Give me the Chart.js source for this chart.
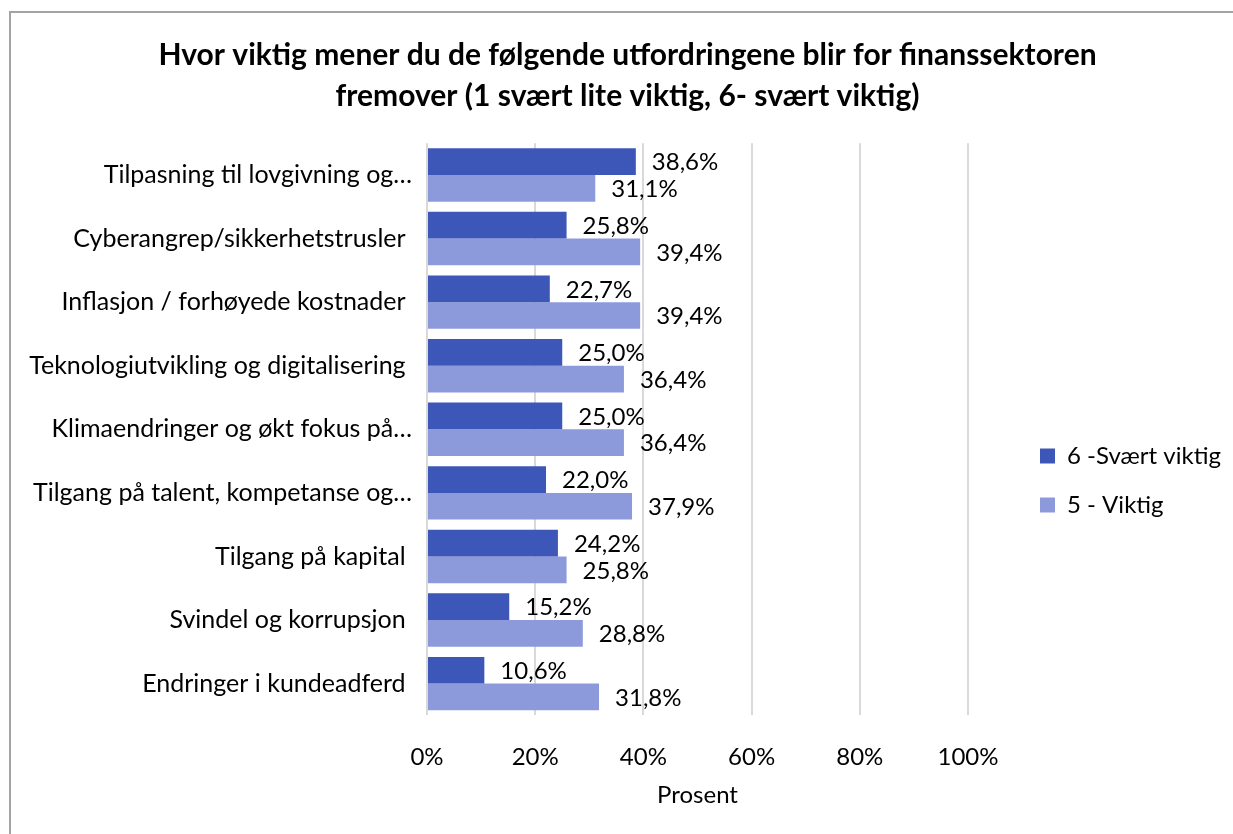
<!DOCTYPE html>
<html>
<head>
<meta charset="utf-8">
<script src="https://cdn.jsdelivr.net/npm/chart.js@4.4.0/dist/chart.umd.min.js"></script>
<style>
  html, body { margin: 0; padding: 0; background: #fff; }
  #wrap { position: relative; width: 1233px; height: 834px; }
  #frame { position: absolute; left: 9px; top: 11px; right: -5px; bottom: -5px; border-left: 2px solid #a3a3a3; border-top: 2px solid #a3a3a3; pointer-events: none; }
</style>
</head>
<body>
<div id="wrap">
  <canvas id="mycanvas" width="1233" height="834"></canvas>
  <div id="frame"></div>
</div>
<script>
var categories = [
  'Tilpasning til lovgivning og\u2026',
  'Cyberangrep/sikkerhetstrusler ',
  'Inflasjon / forh\u00f8yede kostnader ',
  'Teknologiutvikling og digitalisering ',
  'Klimaendringer og \u00f8kt fokus p\u00e5\u2026',
  'Tilgang p\u00e5 talent, kompetanse og\u2026',
  'Tilgang p\u00e5 kapital ',
  'Svindel og korrupsjon ',
  'Endringer i kundeadferd '
];
var svaertViktig = [38.6, 25.8, 22.7, 25.0, 25.0, 22.0, 24.2, 15.2, 10.6];
var viktig = [31.1, 39.4, 39.4, 36.4, 36.4, 37.9, 25.8, 28.8, 31.8];
var seriesNames = ['6 -Sv\u00e6rt viktig', '5 - Viktig'];
var titleLines = [
  'Hvor viktig mener du de f\u00f8lgende utfordringene blir for finanssektoren',
  'fremover (1 sv\u00e6rt lite viktig, 6- sv\u00e6rt viktig)'
];

var FONT = 'Lato, "Liberation Sans", sans-serif';

function pct(v) {
  return v.toFixed(1).replace('.', ',') + '%';
}

// value labels to the right of each bar
var barLabels = {
  id: 'barLabels',
  afterDatasetsDraw: function(chart) {
    var ctx = chart.ctx;
    ctx.save();
    ctx.font = '24px ' + FONT;
    ctx.fillStyle = '#000';
    ctx.textAlign = 'left';
    ctx.textBaseline = 'middle';
    chart.data.datasets.forEach(function(ds, i) {
      chart.getDatasetMeta(i).data.forEach(function(bar, j) {
        ctx.fillText(pct(ds.data[j]), bar.x + 16, bar.y + 1);
      });
    });
    ctx.restore();
  }
};

// fixed legend box, items moved right/down like the original; title nudged right
var legendPlace = {
  id: 'legendPlace',
  beforeInit: function(chart) {
    var lg = chart.legend;
    var fit = lg.fit;
    lg.fit = function() {
      fit.call(this);
      this.width = 265;
    };
  },
  afterLayout: function(chart) {
    var lg = chart.legend;
    lg.left += 47; lg.right += 47;
    lg.top += 58; lg.bottom += 58;
    if (chart.titleBlock) {
      chart.titleBlock.left += 11; chart.titleBlock.right += 11;
    }
  }
};

var chartdata = {
  labels: categories,
  datasets: [
    {
      label: seriesNames[0],
      data: svaertViktig,
      backgroundColor: '#3d57b8',
      borderWidth: 0,
      barPercentage: 1,
      categoryPercentage: 0.84
    },
    {
      label: seriesNames[1],
      data: viktig,
      backgroundColor: '#8c9adc',
      borderWidth: 0,
      barPercentage: 1,
      categoryPercentage: 0.84
    }
  ]
};

var ctx = document.getElementById('mycanvas');

var barGraph = new Chart(ctx, {
  type: 'bar',
  data: chartdata,
  plugins: [barLabels, legendPlace],
  options: {
    indexAxis: 'y',
    responsive: false,
    animation: false,
    layout: { padding: { left: 0, right: 0, top: 35, bottom: 24 } },
    plugins: {
      title: {
        display: true,
        text: titleLines,
        color: '#000',
        font: { family: FONT, size: 30, weight: 'bold', lineHeight: 1.37 },
        padding: { top: 0, bottom: 26 }
      },
      legend: {
        position: 'right',
        labels: {
          color: '#000',
          font: { family: FONT, size: 24 },
          boxWidth: 15,
          boxHeight: 15,
          padding: 25
        }
      },
      tooltip: { enabled: false }
    },
    scales: {
      x: {
        min: 0,
        max: 100,
        ticks: {
          stepSize: 20,
          color: '#000',
          padding: 27,
          font: { family: FONT, size: 24 },
          callback: function(v) { return v + '%'; }
        },
        grid: { color: '#d9d9d9', lineWidth: 2, drawTicks: false },
        border: { display: false },
        title: {
          display: true,
          text: 'Prosent',
          color: '#000',
          font: { family: FONT, size: 24 },
          padding: { top: -17, bottom: 0 }
        }
      },
      y: {
        ticks: {
          color: '#000',
          padding: 7,
          font: { family: FONT, size: 25 }
        },
        grid: { display: false },
        border: { display: false },
        afterFit: function(scale) { scale.width = 427; }
      }
    }
  }
});
</script>
</body>
</html>
